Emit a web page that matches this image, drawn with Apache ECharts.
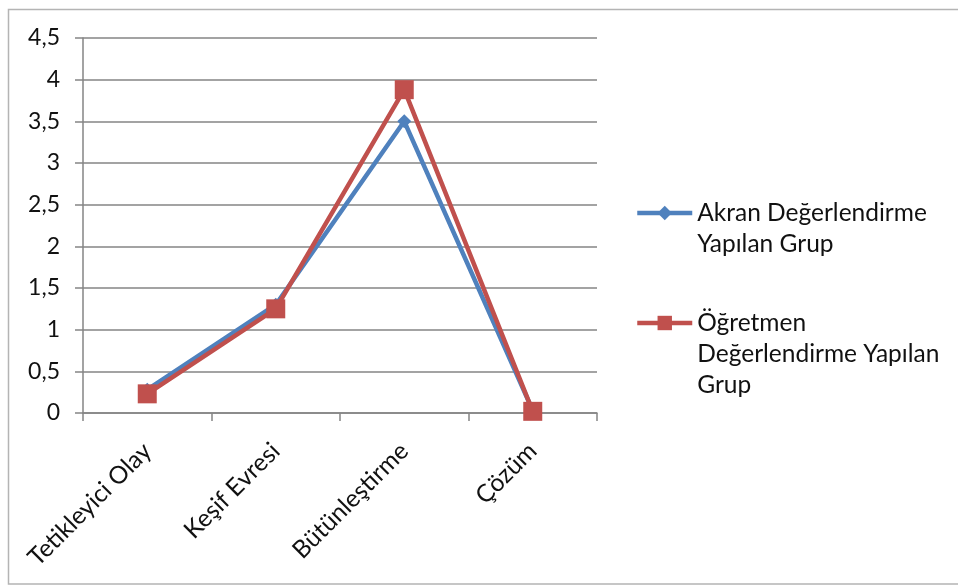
<!DOCTYPE html>
<html>
<head>
<meta charset="utf-8">
<script src="https://cdn.jsdelivr.net/npm/echarts@6/dist/echarts.min.js"></script>
<style>
  html, body { margin: 0; padding: 0; background: #fff; }
  #chart { width: 958px; height: 586px; }
</style>
</head>
<body>
<div id="chart"></div>
<script>
// Stages of the problem-based learning process
const categories = ['Tetikleyici Olay', 'Keşif Evresi', 'Bütünleştirme', 'Çözüm'];

// Mean scores per group
const akranValues = [0.28, 1.3, 3.5, 0.03];
const ogretmenValues = [0.23, 1.25, 3.88, 0.02];

const seriesNames = ['Akran Değerlendirme Yapılan Grup', 'Öğretmen Değerlendirme Yapılan Grup'];
// Legend text broken into lines as shown next to each key
const legendLines = {
  'Akran Değerlendirme Yapılan Grup': ['Akran Değerlendirme', 'Yapılan Grup'],
  'Öğretmen Değerlendirme Yapılan Grup': ['Öğretmen', 'Değerlendirme Yapılan', 'Grup']
};

const yMin = 0, yMax = 4.5, yStep = 0.5;

const FONT = 'Lato, "Liberation Sans", sans-serif';
const TEXT = '#111';
const GRID = '#858585';
const LEGEND_LH = 31;

// Pad with blank lines above so the key sits beside the first line
function legendText(name) {
  const lines = legendLines[name];
  const pad = new Array(lines.length - 1).fill(' ');
  return pad.concat(lines).join('\n');
}

function legendTop(name, firstLineY) {
  const n = legendLines[name].length * 2 - 1;
  return firstLineY - (n * LEGEND_LH) / 2;
}

const legendBase = {
  orient: 'vertical',
  left: 635,
  padding: 0,
  itemWidth: 55,
  itemHeight: 18,
  itemGap: 0,
  selectedMode: false,
  formatter: legendText,
  lineStyle: { width: 4.5 },
  textStyle: { fontFamily: FONT, fontSize: 24.5, color: TEXT, lineHeight: LEGEND_LH }
};

const chart = echarts.init(document.getElementById('chart'), null, { renderer: 'canvas' });
chart.setOption({
  animation: false,
  backgroundColor: '#fff',
  graphic: [{
    type: 'rect',
    shape: { x: 8.5, y: 9.5, width: 1000, height: 574.5 },
    style: { fill: 'none', stroke: '#b4b4b4', lineWidth: 1.5 },
    silent: true,
    z: -10
  }],
  grid: { left: 83, right: 361, top: 38, bottom: 173, containLabel: false },
  legend: [
    Object.assign({}, legendBase, { data: [seriesNames[0]], top: legendTop(seriesNames[0], 213) }),
    Object.assign({}, legendBase, { data: [seriesNames[1]], top: legendTop(seriesNames[1], 323) })
  ],
  xAxis: {
    type: 'category',
    data: categories,
    boundaryGap: true,
    axisLine: { show: true, lineStyle: { color: GRID, width: 1.5 } },
    axisTick: { show: true, alignWithLabel: false, length: 8, lineStyle: { color: GRID, width: 1.5 } },
    axisLabel: {
      rotate: 45,
      margin: 34,
      fontFamily: FONT,
      fontSize: 24.5,
      color: TEXT
    },
    splitLine: { show: false }
  },
  yAxis: {
    type: 'value',
    min: yMin,
    max: yMax,
    interval: yStep,
    axisLine: { show: true, lineStyle: { color: GRID, width: 1.5 } },
    axisTick: { show: true, length: 8, lineStyle: { color: GRID, width: 1.5 } },
    axisLabel: {
      margin: 23,
      fontFamily: FONT,
      fontSize: 23,
      color: TEXT,
      formatter: v => String(+v.toFixed(1)).replace('.', ',')
    },
    splitLine: { show: true, lineStyle: { color: GRID, width: 1.5 } }
  },
  series: [
    {
      name: seriesNames[0],
      type: 'line',
      data: akranValues,
      symbol: 'diamond',
      symbolSize: 14,
      lineStyle: { color: '#4F81BD', width: 4.5 },
      itemStyle: { color: '#4F81BD' },
      z: 2
    },
    {
      name: seriesNames[1],
      type: 'line',
      data: ogretmenValues,
      symbol: 'rect',
      symbolSize: 19,
      lineStyle: { color: '#C0504D', width: 4.5 },
      itemStyle: { color: '#C0504D' },
      z: 3
    }
  ]
});
</script>
</body>
</html>
